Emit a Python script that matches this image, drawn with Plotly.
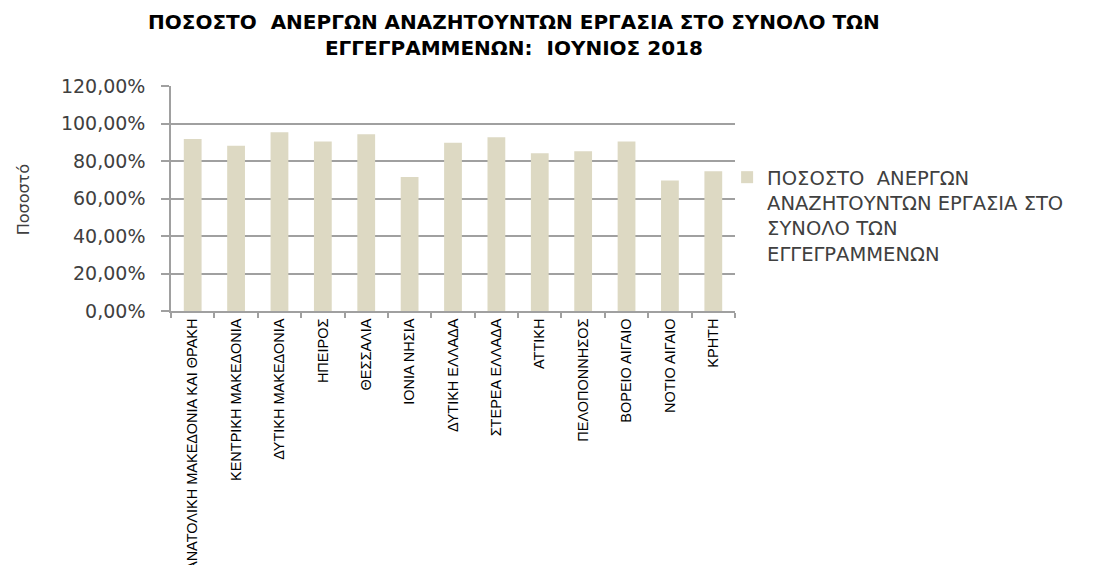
import plotly.graph_objects as go

categories = ["ΑΝΑΤΟΛΙΚΗ ΜΑΚΕΔΟΝΙΑ ΚΑΙ ΘΡΑΚΗ", "ΚΕΝΤΡΙΚΗ ΜΑΚΕΔΟΝΙΑ", "ΔΥΤΙΚΗ ΜΑΚΕΔΟΝΙΑ",
              "ΗΠΕΙΡΟΣ", "ΘΕΣΣΑΛΙΑ", "ΙΟΝΙΑ ΝΗΣΙΑ", "ΔΥΤΙΚΗ ΕΛΛΑΔΑ", "ΣΤΕΡΕΑ ΕΛΛΑΔΑ",
              "ΑΤΤΙΚΗ", "ΠΕΛΟΠΟΝΝΗΣΟΣ", "ΒΟΡΕΙΟ ΑΙΓΑΙΟ", "ΝΟΤΙΟ ΑΙΓΑΙΟ", "ΚΡΗΤΗ"]
values = [0.918, 0.882, 0.953, 0.904, 0.943, 0.715, 0.898, 0.927, 0.841, 0.852, 0.904, 0.696, 0.746]
series_name = "ΠΟΣΟΣΤΟ  ΑΝΕΡΓΩΝ<br>ΑΝΑΖΗΤΟΥΝΤΩΝ ΕΡΓΑΣΙΑ ΣΤΟ<br>ΣΥΝΟΛΟ ΤΩΝ<br>ΕΓΓΕΓΡΑΜΜΕΝΩΝ"
title_text = "ΠΟΣΟΣΤΟ  ΑΝΕΡΓΩΝ ΑΝΑΖΗΤΟΥΝΤΩΝ ΕΡΓΑΣΙΑ ΣΤΟ ΣΥΝΟΛΟ ΤΩΝ<br>ΕΓΓΕΓΡΑΜΜΕΝΩΝ:  ΙΟΥΝΙΟΣ 2018"
y_title = "Ποσοστό"
y_ticks = [0, 0.2, 0.4, 0.6, 0.8, 1.0, 1.2]

fig = go.Figure()
fig.add_trace(go.Bar(x=categories, y=values, name=series_name,
                     marker=dict(color="#DDD9C3", line=dict(width=0)),
                     showlegend=True))

fig.update_layout(
    width=1096, height=565,
    paper_bgcolor="white", plot_bgcolor="white",
    separators=",.",
    margin=dict(l=163, r=369, t=78, b=262, autoexpand=False),
    bargap=0.59,
    legend=dict(x=0.986, xanchor="left", y=0.68, yanchor="top", valign="top",
                font=dict(family="DejaVu Sans", size=19.5, color="#404040"),
                tracegroupgap=0, itemwidth=30, bgcolor="rgba(0,0,0,0)"),
    font=dict(family="DejaVu Sans", color="#404040"),
    annotations=[
        dict(text="<b>" + title_text + "</b>", xref="paper", yref="paper",
             x=0.608, y=1.347, xanchor="center", yanchor="top", showarrow=False,
             font=dict(family="DejaVu Sans", size=20, color="#000000")),
        dict(text=y_title, xref="paper", yref="paper", x=-0.262, y=0.493,
             xanchor="center", yanchor="middle", textangle=-90, showarrow=False,
             font=dict(family="DejaVu Sans", size=16, color="#404040")),
    ],
)
fig.update_yaxes(range=[0, 1.2], tickvals=y_ticks, tickformat=".2%",
                 showgrid=True, gridcolor="#a0a0a0", gridwidth=1.5,
                 showline=True, linecolor="#a0a0a0", linewidth=1.5,
                 ticks="outside", ticklen=8, tickcolor="#a0a0a0", tickwidth=1.5,
                 ticklabelstandoff=12, automargin=False,
                 tickfont=dict(family="DejaVu Sans", size=19, color="#404040"),
                 zeroline=False)
fig.update_xaxes(tickangle=-90, showline=True, linecolor="#a0a0a0", linewidth=1.5,
                 ticks="outside", ticklen=5, tickcolor="#a0a0a0", tickwidth=1.5,
                 tickson="boundaries", automargin=False,
                 tickfont=dict(family="Liberation Sans", size=14.5, color="#000000"),
                 showgrid=False)

fig.write_html("out.html")
